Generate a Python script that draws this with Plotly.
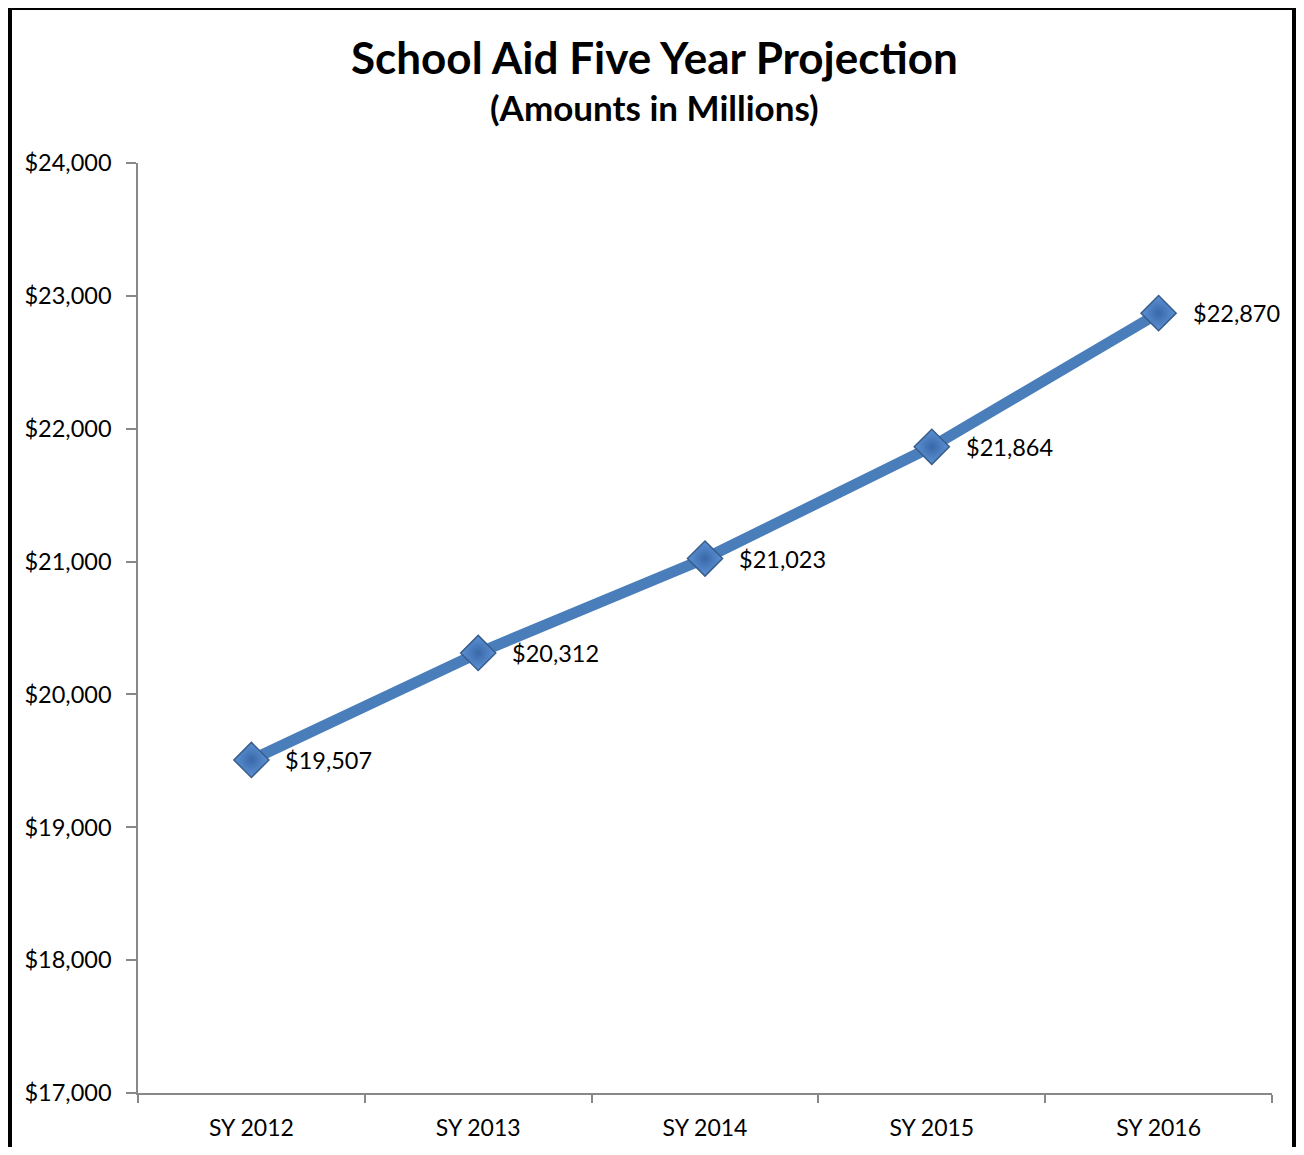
import plotly.graph_objects as go

categories = ["SY 2012", "SY 2013", "SY 2014", "SY 2015", "SY 2016"]
values = [19507, 20312, 21023, 21864, 22870]
labels = ["$19,507", "$20,312", "$21,023", "$21,864", "$22,870"]
y_ticks = [17000, 18000, 19000, 20000, 21000, 22000, 23000, 24000]
y_tick_labels = ["$17,000", "$18,000", "$19,000", "$20,000", "$21,000", "$22,000", "$23,000", "$24,000"]

FONT = "Lato"
# page has an 8px body margin; figure coordinates = page coordinates - 8
OFF = 8
W, H = 1288, 1139
L, T = 138 - OFF, 163 - OFF
R = W - (1272 - OFF)
B = H - (1093 - OFF)
pw, ph = W - L - R, H - T - B

def px_x(p):  # page pixel -> paper x
    return (p - OFF - L) / pw

def px_y(p):  # page pixel -> paper y
    return (H - B - (p - OFF)) / ph

fig = go.Figure()
fig.add_trace(go.Scatter(
    x=categories, y=values, mode="lines+markers",
    line=dict(color="#4A7EBB", width=11),
    marker=dict(symbol="diamond", size=27, color="#5C92D6",
                gradient=dict(type="radial", color="#3A68A8"),
                line=dict(color="#385D8A", width=1.5)),
    hoverinfo="skip", showlegend=False,
))

for c, v, t in zip(categories, values, labels):
    fig.add_annotation(x=c, y=v, text=t, showarrow=False, xanchor="left",
                       yanchor="middle", xshift=32,
                       font=dict(family=FONT, size=23.5, color="#000000"))

fig.add_annotation(xref="paper", yref="paper", x=px_x(654), y=px_y(57),
                   text="<b>School Aid Five Year Projection</b>", showarrow=False,
                   xanchor="center", yanchor="middle",
                   font=dict(family=FONT, size=44, color="#000000"))
fig.add_annotation(xref="paper", yref="paper", x=px_x(654), y=px_y(107),
                   text="<b>(Amounts in Millions)</b>", showarrow=False,
                   xanchor="center", yanchor="middle",
                   font=dict(family=FONT, size=35, color="#000000"))

fig.add_shape(type="rect", xref="paper", yref="paper",
              x0=px_x(10), x1=px_x(1294), y0=px_y(1300), y1=px_y(8),
              line=dict(color="#000000", width=4), layer="above")

fig.update_xaxes(
    type="category", range=[-0.5, 4.5], showgrid=False,
    showline=True, linecolor="#888888", linewidth=1.5,
    ticks="outside", tickson="boundaries", ticklen=8, tickcolor="#888888",
    tickwidth=1.5, ticklabelstandoff=14, automargin=False,
    tickfont=dict(family=FONT, size=23, color="#000000"),
    zeroline=False,
)
fig.update_yaxes(
    range=[17000, 24000], tickvals=y_ticks, ticktext=y_tick_labels,
    showgrid=False, showline=True, linecolor="#888888", linewidth=1.5,
    ticks="outside", ticklen=10, tickcolor="#888888", tickwidth=1.5,
    ticklabelstandoff=10, automargin=False,
    tickfont=dict(family=FONT, size=23.5, color="#000000"), zeroline=False,
)

fig.update_layout(
    width=W, height=H, margin=dict(l=L, r=R, t=T, b=B),
    paper_bgcolor="white", plot_bgcolor="white",
)

fig.write_html("out.html")
